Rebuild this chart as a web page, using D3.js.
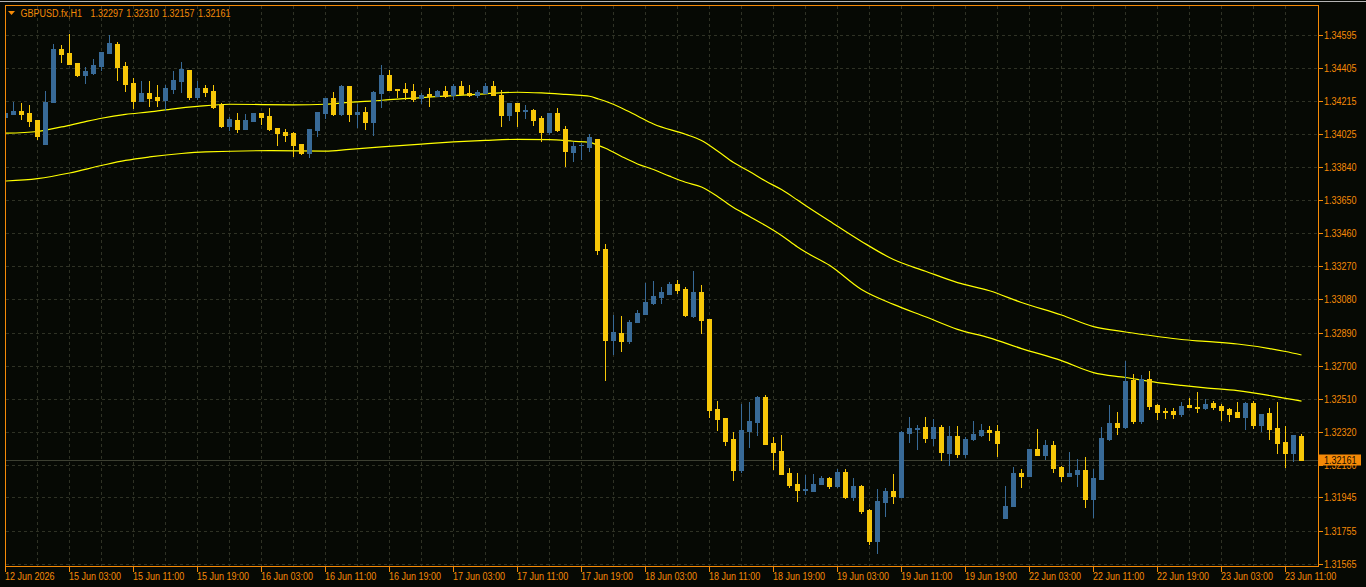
<!DOCTYPE html>
<html><head><meta charset="utf-8">
<script src="https://cdn.jsdelivr.net/npm/d3@7/dist/d3.min.js"></script>
<style>html,body{margin:0;padding:0;background:#060904;overflow:hidden}</style>
</head><body><svg id="c" width="1366" height="587"></svg>
<script>
const symbol = 'GBPUSD.fx,H1';
const xTickLabels = ['12 Jun 2026','15 Jun 03:00','15 Jun 11:00','15 Jun 19:00','16 Jun 03:00','16 Jun 11:00','16 Jun 19:00','17 Jun 03:00','17 Jun 11:00','17 Jun 19:00','18 Jun 03:00','18 Jun 11:00','18 Jun 19:00','19 Jun 03:00','19 Jun 11:00','19 Jun 19:00','22 Jun 03:00','22 Jun 11:00','22 Jun 19:00','23 Jun 03:00','23 Jun 11:00'];
const yTickLabels = ['1.34595','1.34405','1.34215','1.34025','1.33840','1.33650','1.33460','1.33270','1.33080','1.32890','1.32700','1.32510','1.32320','1.32130','1.31945','1.31755','1.31565'];

const open = [1.34125,1.34142,1.34159,1.34148,1.34108,1.33970,1.34211,1.34515,1.34492,1.34435,
1.34366,1.34377,1.34417,1.34492,1.34543,1.34417,1.34320,1.34217,1.34263,1.34240,
1.34222,1.34286,1.34331,1.34394,1.34240,1.34291,1.34274,1.34194,1.34073,1.34108,
1.34056,1.34102,1.34148,1.34131,1.34062,1.34039,1.34033,1.33970,1.33919,1.34050,
1.34148,1.34234,1.34142,1.34303,1.34142,1.34154,1.34096,1.34263,1.34366,1.34286,
1.34286,1.34274,1.34234,1.34257,1.34245,1.34274,1.34251,1.34303,1.34263,1.34251,
1.34263,1.34303,1.34251,1.34136,1.34205,1.34162,1.34165,1.34119,1.34039,1.34148,
1.34056,1.33924,1.33962,1.33953,1.33999,1.33368,1.32847,1.32887,1.32841,1.32950,
1.32996,1.33059,1.33093,1.33110,1.33168,1.33139,1.32984,1.33122,1.32967,1.32451,
1.32400,1.32279,1.32102,1.32325,1.32377,1.32520,1.32257,1.32210,1.32084,1.32021,
1.31990,1.31981,1.32021,1.32056,1.32010,1.32090,1.31947,1.32010,1.31872,1.31695,
1.31918,1.31981,1.31947,1.32314,1.32339,1.32348,1.32285,1.32348,1.32199,1.32296,
1.32193,1.32279,1.32302,1.32331,1.32325,1.31826,1.31895,1.32084,1.32067,1.32222,
1.32188,1.32245,1.32119,1.32067,1.32079,1.32102,1.31936,1.32050,1.32279,1.32371,
1.32348,1.32617,1.32382,1.32623,1.32474,1.32440,1.32440,1.32423,1.32474,1.32463,
1.32457,1.32486,1.32468,1.32451,1.32434,1.32405,1.32486,1.32359,1.32428,1.32342,
1.32262,1.32199,1.32297];
const high = [1.34182,1.34211,1.34205,1.34194,1.34108,1.34274,1.34543,1.34538,1.34601,1.34435,
1.34412,1.34457,1.34498,1.34595,1.34555,1.34440,1.34349,1.34331,1.34331,1.34308,
1.34308,1.34389,1.34440,1.34394,1.34331,1.34308,1.34308,1.34205,1.34125,1.34148,
1.34142,1.34148,1.34148,1.34177,1.34062,1.34056,1.34039,1.33970,1.34056,1.34154,
1.34234,1.34268,1.34308,1.34303,1.34199,1.34182,1.34274,1.34423,1.34394,1.34286,
1.34320,1.34314,1.34263,1.34291,1.34280,1.34303,1.34314,1.34331,1.34308,1.34280,
1.34320,1.34331,1.34280,1.34205,1.34205,1.34194,1.34171,1.34131,1.34148,1.34177,
1.34073,1.33982,1.33976,1.34028,1.33999,1.33397,1.32990,1.32984,1.32961,1.33019,
1.33173,1.33185,1.33151,1.33179,1.33191,1.33151,1.33242,1.33162,1.32967,1.32497,
1.32400,1.32319,1.32480,1.32491,1.32526,1.32531,1.32291,1.32302,1.32113,1.32084,
1.32073,1.32079,1.32067,1.32062,1.32107,1.32107,1.32056,1.32016,1.31878,1.31993,
1.31999,1.32079,1.32325,1.32405,1.32359,1.32405,1.32394,1.32359,1.32354,1.32354,
1.32291,1.32382,1.32365,1.32354,1.32359,1.32010,1.32119,1.32107,1.32222,1.32337,
1.32274,1.32268,1.32125,1.32205,1.32165,1.32176,1.32107,1.32348,1.32474,1.32434,
1.32726,1.32652,1.32646,1.32669,1.32480,1.32457,1.32457,1.32491,1.32514,1.32549,
1.32509,1.32497,1.32480,1.32457,1.32491,1.32491,1.32497,1.32423,1.32457,1.32491,
1.32354,1.32302,1.32310];
const low = [1.34062,1.34142,1.34114,1.34073,1.33999,1.33970,1.34211,1.34440,1.34429,1.34360,
1.34320,1.34371,1.34394,1.34492,1.34337,1.34274,1.34177,1.34217,1.34188,1.34188,
1.34165,1.34263,1.34268,1.34228,1.34228,1.34245,1.34177,1.34068,1.34050,1.34039,
1.34056,1.34102,1.34085,1.34050,1.33964,1.33987,1.33901,1.33913,1.33896,1.34016,
1.34119,1.34136,1.34136,1.34102,1.34068,1.34056,1.34022,1.34182,1.34280,1.34240,
1.34228,1.34217,1.34205,1.34188,1.34245,1.34240,1.34228,1.34257,1.34245,1.34240,
1.34263,1.34251,1.34073,1.34108,1.34073,1.34119,1.34079,1.33987,1.34028,1.34045,
1.33844,1.33873,1.33884,1.33930,1.33340,1.32617,1.32767,1.32784,1.32830,1.32950,
1.32996,1.33053,1.33059,1.33110,1.33116,1.32984,1.32979,1.32887,1.32405,1.32331,
1.32245,1.32044,1.32090,1.32233,1.32302,1.32251,1.32107,1.32079,1.32004,1.31924,
1.31964,1.31981,1.32021,1.31999,1.32004,1.31941,1.31930,1.31855,1.31677,1.31626,
1.31838,1.31912,1.31947,1.32262,1.32222,1.32262,1.32245,1.32159,1.32130,1.32176,
1.32176,1.32274,1.32296,1.32274,1.32182,1.31826,1.31895,1.32004,1.32067,1.32188,
1.32165,1.32090,1.32039,1.32067,1.32010,1.31890,1.31832,1.32050,1.32274,1.32308,
1.32342,1.32371,1.32371,1.32451,1.32394,1.32400,1.32400,1.32411,1.32463,1.32434,
1.32451,1.32451,1.32388,1.32382,1.32405,1.32337,1.32342,1.32325,1.32279,1.32199,
1.32119,1.32153,1.32157];
const close = [1.34148,1.34159,1.34142,1.34102,1.34016,1.34211,1.34515,1.34486,1.34429,1.34366,
1.34389,1.34423,1.34498,1.34549,1.34412,1.34314,1.34217,1.34263,1.34234,1.34222,
1.34291,1.34337,1.34400,1.34240,1.34291,1.34268,1.34182,1.34073,1.34114,1.34056,
1.34108,1.34148,1.34125,1.34056,1.34033,1.34022,1.33964,1.33919,1.34056,1.34154,
1.34234,1.34142,1.34303,1.34142,1.34154,1.34096,1.34268,1.34366,1.34280,1.34280,
1.34268,1.34228,1.34251,1.34245,1.34274,1.34245,1.34303,1.34257,1.34251,1.34268,
1.34303,1.34251,1.34136,1.34205,1.34159,1.34165,1.34108,1.34039,1.34148,1.34050,
1.33930,1.33959,1.33964,1.34010,1.33363,1.32847,1.32893,1.32841,1.32950,1.33002,
1.33065,1.33099,1.33122,1.33168,1.33133,1.32990,1.33122,1.32961,1.32446,1.32394,
1.32268,1.32102,1.32331,1.32382,1.32520,1.32251,1.32205,1.32079,1.32016,1.31987,
1.31993,1.32021,1.32056,1.32010,1.32090,1.31947,1.32010,1.31867,1.31695,1.31924,
1.31981,1.31953,1.32319,1.32342,1.32342,1.32285,1.32348,1.32205,1.32296,1.32193,
1.32279,1.32308,1.32331,1.32319,1.32257,1.31895,1.32084,1.32067,1.32222,1.32188,
1.32245,1.32113,1.32067,1.32084,1.32102,1.31936,1.32056,1.32285,1.32371,1.32348,
1.32612,1.32382,1.32623,1.32468,1.32434,1.32434,1.32423,1.32468,1.32463,1.32460,
1.32480,1.32463,1.32446,1.32423,1.32405,1.32486,1.32359,1.32423,1.32337,1.32257,
1.32199,1.32302,1.32161];

// Envelope lines, read at selected bars
const upperBars = [0,4,5,7,10,12,15,18,21,24,28,36,40,43,46,48,52,56,60,64,67,70,72,73,74,75,77,79,81,85,87,89,91,93,95,97,99,100,103,107,111,115,119,123,127,132,136,140,144,147,150,154,158,160,162];
const upperVals = [1.34032,1.34042,1.34050,1.34068,1.34099,1.34118,1.34140,1.34154,1.34172,1.34186,1.34198,1.34195,1.34198,1.34209,1.34217,1.34225,1.34236,1.34248,1.34258,1.34267,1.34263,1.34255,1.34249,1.34244,1.34230,1.34215,1.34177,1.34131,1.34085,1.34026,1.33990,1.33930,1.33864,1.33813,1.33758,1.33709,1.33649,1.33618,1.33529,1.33412,1.33308,1.33241,1.33176,1.33129,1.33062,1.32990,1.32924,1.32893,1.32867,1.32850,1.32839,1.32824,1.32798,1.32781,1.32761];
const lowerBars = [0,4,8,12,15,18,22,25,33,40,43,47,52,56,60,64,68,71,73,74,75,77,79,81,83,85,87,89,91,93,95,97,99,100,103,107,111,115,119,123,127,132,136,140,144,147,150,154,158,160,162];
const lowerVals = [1.33758,1.33772,1.33804,1.33847,1.33876,1.33896,1.33916,1.33925,1.33932,1.33929,1.33940,1.33954,1.33970,1.33982,1.33991,1.33997,1.33995,1.33986,1.33980,1.33964,1.33946,1.33899,1.33856,1.33824,1.33786,1.33751,1.33724,1.33670,1.33606,1.33555,1.33503,1.33446,1.33380,1.33351,1.33275,1.33136,1.33051,1.32980,1.32908,1.32859,1.32798,1.32729,1.32660,1.32632,1.32603,1.32587,1.32573,1.32557,1.32529,1.32513,1.32497];

const ORANGE = '#f58a07', BLUE = '#386a97', GOLD = '#f7c708', LINE = '#ffff00', GRID = '#2f3225', BG = '#060904';
const FONT = "'Liberation Sans',Arial,sans-serif";
const FS = 10;
// squeeze text horizontally to mimic a narrow UI font
function narrow(sel) {
  sel.each(function() {
    const w = this.getComputedTextLength();
    d3.select(this).attr('textLength', (w * 0.9).toFixed(2)).attr('lengthAdjust', 'spacingAndGlyphs');
  });
}

const svg = d3.select('#c');
svg.append('rect').attr('width',1366).attr('height',587).attr('fill',BG);
svg.append('line').attr('x1',0).attr('x2',1366).attr('y1',1.5).attr('y2',1.5).attr('stroke','#b4b4b4');

const n = open.length;
const x = d3.scaleLinear().domain([0, n-1]).range([5.5, 5.5 + 8*(n-1)]);
const y = d3.scaleLinear().domain([1.31565, 1.34595]).range([563.7, 35]);

const L = 5.5, T = 5.5, R = 1318.5, B = 566.5;
svg.append('defs').append('clipPath').attr('id','clip').append('rect')
  .attr('x',6).attr('y',6).attr('width',1312).attr('height',560);

const g = svg.append('g').attr('clip-path','url(#clip)');
// grid
const gridY = yTickLabels.map(s => Math.round(y(+s)) + 0.5);
g.selectAll('.gy').data(gridY).join('line')
  .attr('x1',6).attr('x2',1318).attr('y1',d=>d).attr('y2',d=>d)
  .attr('stroke',GRID).attr('stroke-dasharray','3,3').attr('shape-rendering','crispEdges');
const gridX = d3.range(4, n, 4);
g.selectAll('.gx').data(gridX).join('line')
  .attr('x1',d=>x(d)).attr('x2',d=>x(d)).attr('y1',6).attr('y2',566)
  .attr('stroke',GRID).attr('stroke-dasharray','3,3').attr('shape-rendering','crispEdges');

// current price line
const lastPrice = close[n-1];
const ly = Math.round(y(lastPrice)) + 0.5;
g.append('line').attr('x1',6).attr('x2',1318).attr('y1',ly).attr('y2',ly)
  .attr('stroke','#3d4032').attr('shape-rendering','crispEdges');

// envelope lines
const lineGen = d3.line().x(d=>x(d[0])).y(d=>y(d[1])).curve(d3.curveMonotoneX);
g.append('path').datum(upperBars.map((b,i)=>[b,upperVals[i]])).attr('d',lineGen)
  .attr('fill','none').attr('stroke',LINE).attr('stroke-width',1.2);
g.append('path').datum(lowerBars.map((b,i)=>[b,lowerVals[i]])).attr('d',lineGen)
  .attr('fill','none').attr('stroke',LINE).attr('stroke-width',1.2);

// candles
const idx = d3.range(n);
const col = i => close[i] >= open[i] ? BLUE : GOLD;
g.selectAll('.wick').data(idx).join('rect')
  .attr('x', i => x(i) - 0.5).attr('width', 1)
  .attr('y', i => Math.round(y(high[i])))
  .attr('height', i => Math.round(y(low[i])) - Math.round(y(high[i])) + 1)
  .attr('fill', col).attr('shape-rendering','crispEdges');
g.selectAll('.body').data(idx).join('rect')
  .attr('x', i => x(i) - 2.5).attr('width', 5)
  .attr('y', i => Math.round(y(Math.max(open[i], close[i]))))
  .attr('height', i => Math.round(y(Math.min(open[i], close[i]))) - Math.round(y(Math.max(open[i], close[i]))) + 1)
  .attr('fill', col).attr('shape-rendering','crispEdges');

// frame
svg.append('path').attr('d',`M${L},${B}V${T}H${R}V${B}H${L}`)
  .attr('fill','none').attr('stroke',ORANGE).attr('shape-rendering','crispEdges');

// right axis
const ya = svg.append('g');
ya.selectAll('line').data(yTickLabels).join('line')
  .attr('x1',R).attr('x2',R+4).attr('y1',d=>Math.round(y(+d))+0.5).attr('y2',d=>Math.round(y(+d))+0.5)
  .attr('stroke',ORANGE).attr('shape-rendering','crispEdges');
ya.selectAll('text').data(yTickLabels).join('text')
  .attr('x',1324).attr('y',d=>Math.round(y(+d))+4)
  .attr('fill',ORANGE).attr('font-family',FONT).attr('font-size',FS).text(d=>d).call(narrow);

// bottom axis
const xTickBars = xTickLabels.map((s,i)=>i*8);
const xa = svg.append('g');
xa.selectAll('line').data(xTickBars).join('line')
  .attr('x1',d=>x(d)).attr('x2',d=>x(d)).attr('y1',B).attr('y2',B+5)
  .attr('stroke',ORANGE).attr('shape-rendering','crispEdges');
xa.selectAll('text').data(xTickLabels).join('text')
  .attr('x',(d,i)=>x(xTickBars[i])-0.5).attr('y',579.5)
  .attr('fill',ORANGE).attr('font-family',FONT).attr('font-size',FS).text(d=>d).call(narrow);

// last price tag (drawn over the axis label beneath it, as in the reference)
svg.append('rect').attr('x',1319).attr('y',ly-6).attr('width',42).attr('height',11).attr('fill',ORANGE);
svg.append('text').attr('x',1324).attr('y',ly+3.5).attr('fill','#140c00')
  .attr('font-family',FONT).attr('font-size',FS).text(d3.format('.5f')(lastPrice)).call(narrow);

// header
svg.append('path').attr('d','M8,11L15,11L11.5,15Z').attr('fill',ORANGE);
svg.append('text').attr('x',20.5).attr('y',17).attr('fill',ORANGE)
  .attr('font-family',FONT).attr('font-size',FS).text(symbol).call(narrow);
const ohlc = [open[n-1], high[n-1], low[n-1], close[n-1]];
svg.selectAll('.hdr').data(ohlc).join('text')
  .attr('x',(d,i)=>90.5 + i*35.8).attr('y',17).attr('fill',ORANGE)
  .attr('font-family',FONT).attr('font-size',FS).text(d=>d3.format('.5f')(d)).call(narrow);
</script></body></html>
